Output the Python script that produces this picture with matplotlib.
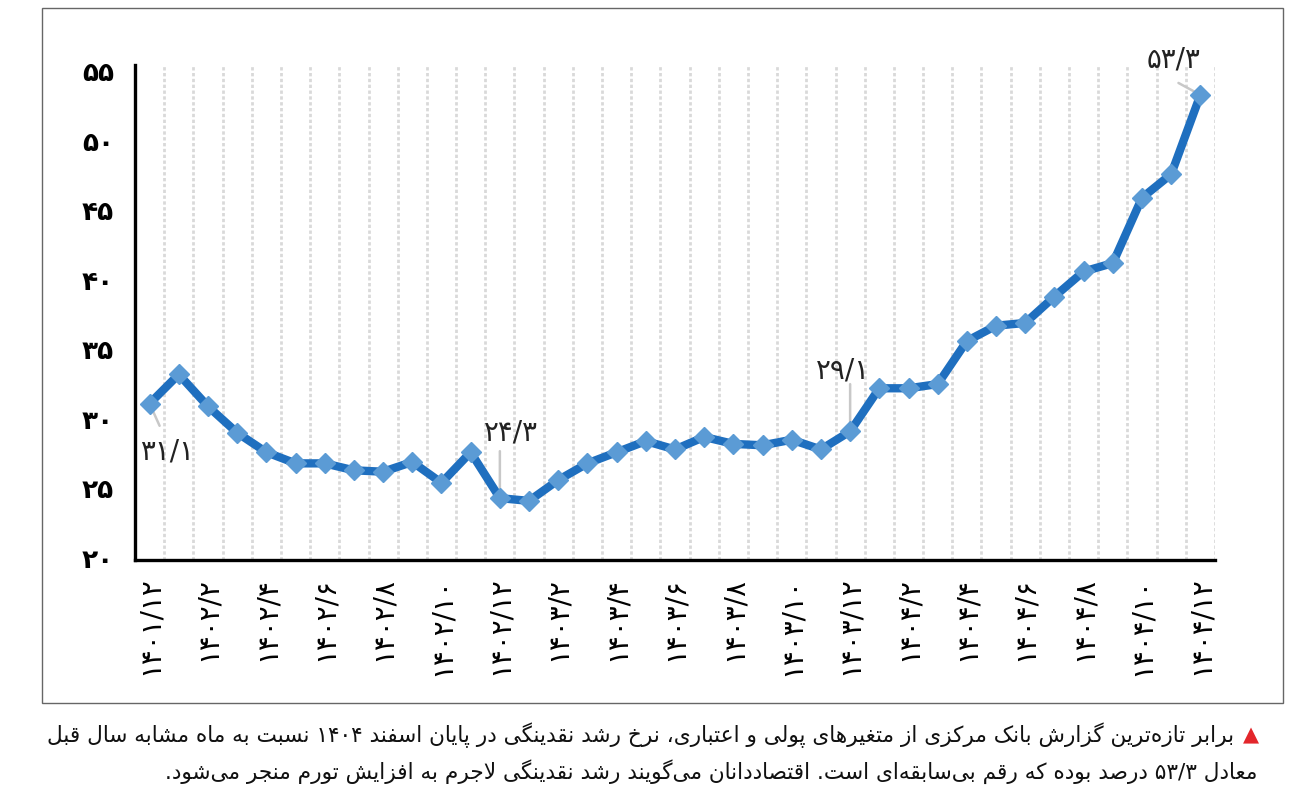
import matplotlib
matplotlib.use("Agg")
import matplotlib.pyplot as plt
from matplotlib.patches import Rectangle
from matplotlib.ticker import FixedLocator

# ---------------- data ----------------
periods = ["1401/12",
           "1402/1", "1402/2", "1402/3", "1402/4", "1402/5", "1402/6",
           "1402/7", "1402/8", "1402/9", "1402/10", "1402/11", "1402/12",
           "1403/1", "1403/2", "1403/3", "1403/4", "1403/5", "1403/6",
           "1403/7", "1403/8", "1403/9", "1403/10", "1403/11", "1403/12",
           "1404/1", "1404/2", "1404/3", "1404/4", "1404/5", "1404/6",
           "1404/7", "1404/8", "1404/9", "1404/10", "1404/11", "1404/12"]
growth = [31.1, 33.2, 30.9, 29.0, 27.6, 26.8, 26.8, 26.3, 26.2, 26.9, 25.4, 27.6,
          24.3, 24.1, 25.6, 26.8, 27.6, 28.4, 27.8, 28.7, 28.2, 28.1, 28.5, 27.8,
          29.1, 32.2, 32.2, 32.5, 35.6, 36.7, 36.9, 38.8, 40.6, 41.2, 45.9, 47.6, 53.3]
tick_periods = periods[::2]
y_ticks = [20, 25, 30, 35, 40, 45, 50, 55]
annotated = {0: "31/1", 12: "24/3", 24: "29/1", 36: "53/3"}

caption_line1 = ("برابر تازه\u200cترین گزارش بانک مرکزی از متغیرهای پولی و اعتباری، "
                 "نرخ رشد نقدینگی در پایان اسفند 1404 نسبت به ماه مشابه سال قبل")
caption_line2 = ("معادل 53/3 درصد بوده که رقم بی\u200cسابقه\u200cای است. "
                 "اقتصاددانان می\u200cگویند رشد نقدینگی لاجرم به افزایش تورم منجر می\u200cشود.")

# ---------------- Persian helpers ----------------
FA_DIG = str.maketrans("0123456789", "۰۱۲۳۴۵۶۷۸۹")


def fa(s):
    return str(s).translate(FA_DIG)


FORMS = {
    'ا': ('\uFE8D', '\uFE8E', None, None),
    'آ': ('\uFE81', '\uFE82', None, None),
    'ب': ('\uFE8F', '\uFE90', '\uFE91', '\uFE92'),
    'پ': ('\uFB56', '\uFB57', '\uFB58', '\uFB59'),
    'ت': ('\uFE95', '\uFE96', '\uFE97', '\uFE98'),
    'ث': ('\uFE99', '\uFE9A', '\uFE9B', '\uFE9C'),
    'ج': ('\uFE9D', '\uFE9E', '\uFE9F', '\uFEA0'),
    'چ': ('\uFB7A', '\uFB7B', '\uFB7C', '\uFB7D'),
    'ح': ('\uFEA1', '\uFEA2', '\uFEA3', '\uFEA4'),
    'خ': ('\uFEA5', '\uFEA6', '\uFEA7', '\uFEA8'),
    'د': ('\uFEA9', '\uFEAA', None, None),
    'ذ': ('\uFEAB', '\uFEAC', None, None),
    'ر': ('\uFEAD', '\uFEAE', None, None),
    'ز': ('\uFEAF', '\uFEB0', None, None),
    'ژ': ('\uFB8A', '\uFB8B', None, None),
    'س': ('\uFEB1', '\uFEB2', '\uFEB3', '\uFEB4'),
    'ش': ('\uFEB5', '\uFEB6', '\uFEB7', '\uFEB8'),
    'ص': ('\uFEB9', '\uFEBA', '\uFEBB', '\uFEBC'),
    'ض': ('\uFEBD', '\uFEBE', '\uFEBF', '\uFEC0'),
    'ط': ('\uFEC1', '\uFEC2', '\uFEC3', '\uFEC4'),
    'ظ': ('\uFEC5', '\uFEC6', '\uFEC7', '\uFEC8'),
    'ع': ('\uFEC9', '\uFECA', '\uFECB', '\uFECC'),
    'غ': ('\uFECD', '\uFECE', '\uFECF', '\uFED0'),
    'ف': ('\uFED1', '\uFED2', '\uFED3', '\uFED4'),
    'ق': ('\uFED5', '\uFED6', '\uFED7', '\uFED8'),
    'ک': ('\uFB8E', '\uFB8F', '\uFB90', '\uFB91'),
    'گ': ('\uFB92', '\uFB93', '\uFB94', '\uFB95'),
    'ل': ('\uFEDD', '\uFEDE', '\uFEDF', '\uFEE0'),
    'م': ('\uFEE1', '\uFEE2', '\uFEE3', '\uFEE4'),
    'ن': ('\uFEE5', '\uFEE6', '\uFEE7', '\uFEE8'),
    'و': ('\uFEED', '\uFEEE', None, None),
    'ه': ('\uFEE9', '\uFEEA', '\uFEEB', '\uFEEC'),
    'ی': ('\uFBFC', '\uFBFD', '\uFBFE', '\uFBFF'),
}


def shape_word(w):
    out = []
    n = len(w)
    i = 0
    while i < n:
        c = w[i]
        prev = w[i - 1] if i > 0 else None
        join_prev = prev in FORMS and FORMS[prev][2] is not None
        if c not in FORMS:
            if c != '\u200c':
                out.append(c)
            i += 1
            continue
        if c == 'ل' and i + 1 < n and w[i + 1] in ('ا', 'آ'):
            if w[i + 1] == 'ا':
                out.append('\uFEFC' if join_prev else '\uFEFB')
            else:
                out.append('\uFEF6' if join_prev else '\uFEF5')
            i += 2
            continue
        iso, fin, ini, med = FORMS[c]
        nxt = w[i + 1] if i + 1 < n else None
        join_next = ini is not None and nxt in FORMS
        if join_prev and join_next:
            out.append(med)
        elif join_prev:
            out.append(fin)
        elif join_next:
            out.append(ini)
        else:
            out.append(iso)
        i += 1
    return ''.join(out)


def visual(line):
    vis = []
    for t in line.split(' '):
        if any(ch in FORMS for ch in t):
            vis.append(shape_word(t)[::-1])
        else:
            vis.append(fa(t))
    return ' '.join(vis[::-1])


# ---------------- figure ----------------
W, H = 1297, 805
fig = plt.figure(figsize=(W / 100, H / 100), dpi=100)
fig.patch.set_facecolor("white")

fig.add_artist(Rectangle((42 / W, 1 - 703 / H), (1283 - 42) / W, (703 - 8) / H,
                         transform=fig.transFigure, fill=False,
                         edgecolor="#666666", linewidth=1.0))

ax = fig.add_axes([135 / W, 1 - 560 / H, (1215 - 135) / W, (560 - 65) / H])
x = list(range(len(periods)))
ax.set_xlim(-0.5, len(periods) - 0.5)
ax.set_ylim(19.85, 55.45)

ax.xaxis.set_minor_locator(FixedLocator([k + 0.5 for k in range(len(periods))]))
ax.grid(which="minor", axis="x", color="#d9d9d9", linestyle=(0, (1.2, 0.9)), linewidth=2.0)
ax.set_axisbelow(True)

ax.plot(x, growth, color="#1f6fbf", linewidth=6.0, solid_joinstyle="round",
        marker="D", markersize=10, markerfacecolor="#5b9bd5",
        markeredgecolor="#5b9bd5", zorder=3)

ax.set_xticks(x[::2])
ax.set_xticklabels([fa(p) for p in tick_periods], rotation=90, fontsize=20,
                   va="top", ha="center")
ax.set_yticks(y_ticks)
ax.set_yticklabels([fa(v) for v in y_ticks], fontsize=19, fontweight="bold")
ax.tick_params(axis="both", which="both", length=0)
ax.tick_params(axis="y", pad=15)
ax.tick_params(axis="x", pad=12)

for s in ["top", "right"]:
    ax.spines[s].set_visible(False)
for s in ["left", "bottom"]:
    ax.spines[s].set_linewidth(2.4)
    ax.spines[s].set_color("black")

# annotation layout in points: text offset, leader start, leader end
ann_layout = {
    0: ((12.2, -34.5), (7.2, -16.0), (0.5, -1.0)),
    12: ((7.9, 47.0), (0.0, 33.8), (0.0, 1.5)),
    24: ((-5.0, 43.5), (0.0, 34.0), (0.0, 1.5)),
    36: ((-19.4, 25.5), (-15.8, 8.6), (-1.5, 1.0)),
}
for idx, lab in annotated.items():
    (tx, ty), (l0x, l0y), (l1x, l1y) = ann_layout[idx]
    pt = (idx, growth[idx])
    ax.annotate("", xy=pt, xytext=(l0x, l0y), textcoords="offset points",
                arrowprops=dict(arrowstyle="-", color="#c8c8c8", lw=1.8,
                                shrinkA=0, shrinkB=0), zorder=2.5)
    ax.annotate(fa(lab), xy=pt, xytext=(tx, ty), textcoords="offset points",
                ha="center", va="center", fontsize=20, color="#222222", zorder=4)

# caption
fig.text(1259 / W, 1 - 735 / H, "▲", color="#e3262b", fontsize=15,
         ha="right", va="center")
fig.text(1234 / W, 1 - 735 / H, visual(caption_line1), fontsize=15.6,
         ha="right", va="center", color="#111111")
fig.text(1257 / W, 1 - 772 / H, visual(caption_line2), fontsize=15.6,
         ha="right", va="center", color="#111111")

fig.savefig("out.png", dpi=100, facecolor="white")
